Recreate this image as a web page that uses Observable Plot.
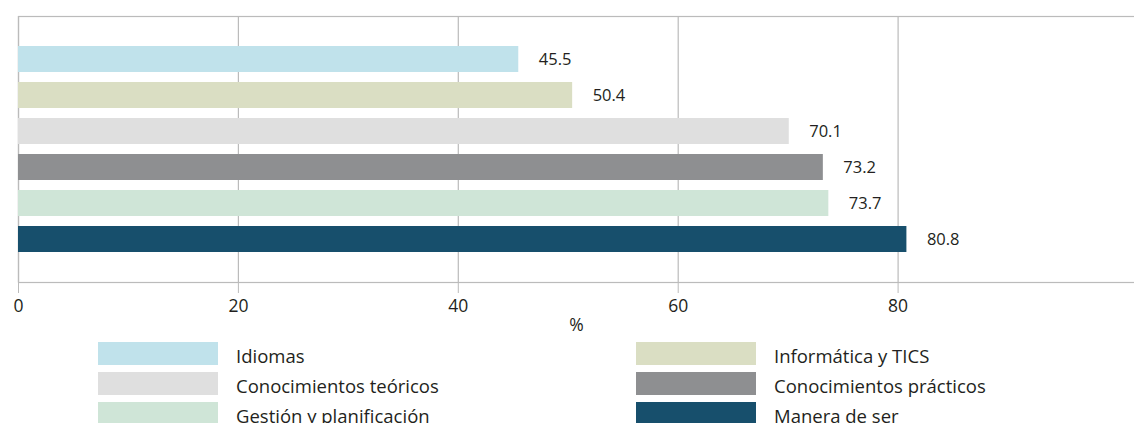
<!DOCTYPE html>
<html>
<head>
<meta charset="utf-8">
<script src="https://cdn.jsdelivr.net/npm/d3@7"></script>
<script src="https://cdn.jsdelivr.net/npm/@observablehq/plot@0.6"></script>
<style>
  html, body { margin: 0; padding: 0; background: #fff; overflow: hidden; }
  body { font-family: "Open Sans", sans-serif; color: #231f20; }
  #legend { display: grid; grid-template-columns: 538px auto; padding-left: 98px; margin-top: 7px; }
  .item { display: flex; height: 30px; align-items: flex-start; }
  .sw { width: 120px; height: 23px; flex: none; }
  .lb { margin-left: 18px; font-size: 18.5px; line-height: 23px; padding-top: 2px; white-space: nowrap; }
</style>
</head>
<body>
<div id="chart"></div>
<div id="legend"></div>
<script>
const categories = ["Idiomas", "Informática y TICS", "Conocimientos teóricos", "Conocimientos prácticos", "Gestión y planificación", "Manera de ser"];
const values = [45.5, 50.4, 70.1, 73.2, 73.7, 80.8];
const colors = ["#c0e2eb", "#dadec3", "#dfdfdf", "#8e8f91", "#cfe5d7", "#174f6c"];
const xTicks = [0, 20, 40, 60, 80];

const data = categories.map((c, i) => ({category: c, value: values[i]}));

const chart = Plot.plot({
  width: 1134,
  height: 335,
  marginTop: 16,
  marginBottom: 53,
  marginLeft: 18,
  marginRight: 0,
  style: {fontFamily: "Open Sans, sans-serif", color: "#231f20", background: "#fff"},
  x: {domain: [0, 101.5]},
  y: {domain: categories, paddingInner: 0.286, paddingOuter: 0.74, axis: null},
  color: {domain: categories, range: colors},
  marks: [
    Plot.frame({stroke: "#bbbbbb", strokeWidth: 1.2, insetRight: -6}),
    Plot.ruleX(xTicks, {stroke: "#bbbbbb", strokeWidth: 1.2}),
    Plot.axisX({ticks: xTicks, tickSize: 11, tickPadding: 6, stroke: "#bbbbbb", fontSize: 17.5,
                label: "%", labelArrow: "none", labelAnchor: "center", labelOffset: 48}),
    Plot.barX(data, {x: "value", y: "category", fill: "category"}),
    Plot.text(data, {x: "value", y: "category", text: d => d.value.toFixed(1), textAnchor: "start",
                     dx: 20, fontSize: 16.5, fill: "#231f20"})
  ]
});
document.getElementById("chart").appendChild(chart);

const legend = document.getElementById("legend");
categories.forEach((c, i) => {
  const item = document.createElement("div");
  item.className = "item";
  const sw = document.createElement("div");
  sw.className = "sw";
  sw.style.background = colors[i];
  const lb = document.createElement("span");
  lb.className = "lb";
  lb.textContent = c;
  item.appendChild(sw);
  item.appendChild(lb);
  legend.appendChild(item);
});
</script>
</body>
</html>
